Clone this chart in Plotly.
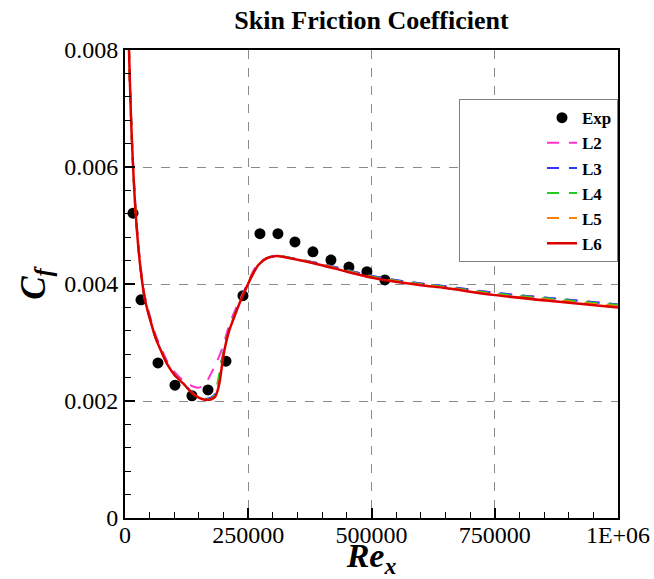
import plotly.graph_objects as go

# ---------------- data ----------------
exp_x = [16200, 32400, 66900, 101400, 135800, 168300, 204800, 239300, 273700,
         310200, 344700, 381200, 417700, 454200, 490700, 527100]
exp_y = [0.00521, 0.00373, 0.00265, 0.00227, 0.00209, 0.00219, 0.00268, 0.00380,
         0.00486, 0.00486, 0.00472, 0.00455, 0.00441, 0.00429, 0.00421, 0.00407]

l6_x = [6000, 8100, 12000, 15600, 21700, 31000, 40500, 50000, 62000, 75000, 85000,
        100000, 118000, 132000, 145000, 158000, 166000, 175000, 182500, 188000,
        192600, 199300, 205000, 212000, 220000, 229000, 238000, 253500, 270000,
        287000, 307600, 340000, 395000, 450000, 517000, 600000, 650000, 750000,
        875000, 1000000]
l6_y = [0.0088, 0.0080, 0.0069, 0.00615, 0.0052, 0.0043, 0.00373, 0.00342, 0.00308,
        0.00282, 0.00264, 0.00245, 0.00230, 0.00217, 0.00208, 0.00203, 0.00202,
        0.00203, 0.00207, 0.00218, 0.00236, 0.00276, 0.00300, 0.00322, 0.00340,
        0.00360, 0.00378, 0.00407, 0.00432, 0.00444, 0.00448, 0.00443, 0.00433,
        0.00421, 0.00408, 0.00398, 0.00393, 0.00381, 0.00370, 0.00360]

l5_x = l6_x
l5_y = [0.0088, 0.0080, 0.0069, 0.00615, 0.0052, 0.0043, 0.00373, 0.00342, 0.00308,
        0.00282, 0.00264, 0.00245, 0.00230, 0.00217, 0.00208, 0.00203, 0.00202,
        0.00203, 0.00208, 0.00220, 0.00239, 0.00278, 0.00301, 0.00323, 0.00341,
        0.00361, 0.00379, 0.00408, 0.00432, 0.00444, 0.00448, 0.00443, 0.00434,
        0.00422, 0.00409, 0.00399, 0.00394, 0.00382, 0.00372, 0.00362]

l4_x = l6_x
l4_y = [0.0088, 0.0080, 0.0069, 0.00615, 0.0052, 0.0043, 0.00373, 0.00342, 0.00308,
        0.00282, 0.00264, 0.00245, 0.00230, 0.00217, 0.00208, 0.00204, 0.00203,
        0.00204, 0.00212, 0.00232, 0.00252, 0.00282, 0.00303, 0.00324, 0.00342,
        0.00362, 0.00380, 0.00408, 0.00432, 0.00444, 0.00448, 0.00444, 0.00434,
        0.00423, 0.00410, 0.00400, 0.00395, 0.00384, 0.00374, 0.00364]

l3_x = l6_x
l3_y = [0.0088, 0.0080, 0.0069, 0.00615, 0.0052, 0.0043, 0.00373, 0.00343, 0.00309,
        0.00283, 0.00265, 0.00246, 0.00231, 0.00218, 0.00209, 0.00205, 0.00204,
        0.00206, 0.00212, 0.00226, 0.00245, 0.00280, 0.00303, 0.00325, 0.00343,
        0.00362, 0.00380, 0.00408, 0.00432, 0.00444, 0.00448, 0.00444, 0.00435,
        0.00424, 0.00411, 0.00401, 0.00396, 0.00385, 0.00375, 0.00365]

l2_x = [6000, 8100, 12000, 15600, 21700, 31000, 40500, 50000, 62000, 75000, 85000,
        100000, 118000, 132000, 145000, 155000, 165000, 174000, 185000, 196000,
        205000, 213000, 228000, 247000, 262000, 280000, 305000, 340000, 395000,
        450000, 517000, 600000, 650000, 750000, 875000, 1000000]
l2_y = [0.0088, 0.0080, 0.0069, 0.0062, 0.00525, 0.00435, 0.00378, 0.00347, 0.00313,
        0.00287, 0.00269, 0.00250, 0.00235, 0.00227, 0.00223, 0.00224, 0.00232,
        0.00246, 0.00265, 0.00287, 0.00312, 0.00334, 0.00364, 0.00398, 0.00425,
        0.00441, 0.00447, 0.00444, 0.00435, 0.00424, 0.00411, 0.00401, 0.00396,
        0.00385, 0.00375, 0.00365]

x_tickvals = [0, 250000, 500000, 750000, 1000000]
x_ticktext = ["0", "250000", "500000", "750000", "1E+06"]
y_tickvals = [0, 0.002, 0.004, 0.006, 0.008]
y_ticktext = ["0", "0.002", "0.004", "0.006", "0.008"]

FONT = "Liberation Serif, Times New Roman, serif"

fig = go.Figure()
fig.add_trace(go.Scatter(x=exp_x, y=exp_y, mode="markers", name="<b>Exp</b>",
                         marker=dict(color="black", size=11, symbol="circle")))
dash = "12px,10px"
fig.add_trace(go.Scatter(x=l2_x, y=l2_y, mode="lines", name="<b>L2</b>",
                         line=dict(color="#ff33cc", width=2, dash=dash, shape="spline", smoothing=0.8)))
fig.add_trace(go.Scatter(x=l3_x, y=l3_y, mode="lines", name="<b>L3</b>",
                         line=dict(color="#3333ff", width=2, dash=dash, shape="spline", smoothing=0.8)))
fig.add_trace(go.Scatter(x=l4_x, y=l4_y, mode="lines", name="<b>L4</b>",
                         line=dict(color="#22cc22", width=2, dash=dash, shape="spline", smoothing=0.8)))
fig.add_trace(go.Scatter(x=l5_x, y=l5_y, mode="lines", name="<b>L5</b>",
                         line=dict(color="#ff8000", width=2, dash=dash, shape="spline", smoothing=0.8)))
fig.add_trace(go.Scatter(x=l6_x, y=l6_y, mode="lines", name="<b>L6</b>",
                         line=dict(color="#dd0000", width=2.5, shape="spline", smoothing=0.8)))

axis_common = dict(
    showline=True, linewidth=2, linecolor="black", mirror=True,
    ticks="inside", ticklen=10, tickwidth=2, tickcolor="black",
    showgrid=True, gridcolor="#8a8a8a", griddash="dash", gridwidth=1,
    zeroline=False, automargin=False,
    tickfont=dict(family=FONT, size=24, color="black"),
)

fig.update_xaxes(
    range=[0, 1000000], tickmode="array", tickvals=x_tickvals, ticktext=x_ticktext,
    ticklabelstandoff=-6,
    minor=dict(ticks="inside", ticklen=6, tickwidth=1, tickcolor="black",
               dtick=50000, tick0=0, showgrid=False),
    title=dict(text="<b><i>Re</i></b><sub><b><i>x</i></b></sub>",
               font=dict(family=FONT, size=34, color="black"), standoff=3),
    **axis_common)
fig.update_yaxes(
    range=[0, 0.008], tickmode="array", tickvals=y_tickvals, ticktext=y_ticktext,
    minor=dict(ticks="inside", ticklen=6, tickwidth=1, tickcolor="black",
               dtick=0.0004, tick0=0, showgrid=False),
    title=dict(text="<b><i>C</i></b><sub><b><i>f</i></b></sub>",
               font=dict(family=FONT, size=35, color="black"), standoff=8),
    **axis_common)

fig.update_layout(
    width=654, height=579,
    margin=dict(l=125, r=36, t=50, b=61),
    paper_bgcolor="white", plot_bgcolor="white",
    font=dict(family=FONT, color="black"),
    title=dict(text="<b>Skin Friction Coefficient</b>", x=0.568, xanchor="center",
               y=0.965, yanchor="middle",
               font=dict(family=FONT, size=26, color="black")),
    showlegend=True,
    legend=dict(x=1.0, xanchor="right", y=0.895, yanchor="top",
                bgcolor="white", bordercolor="#808080", borderwidth=1,
                font=dict(family=FONT, size=17, color="black"),
                indentation=82, tracegroupgap=0),
)

fig.write_html("out.html")
